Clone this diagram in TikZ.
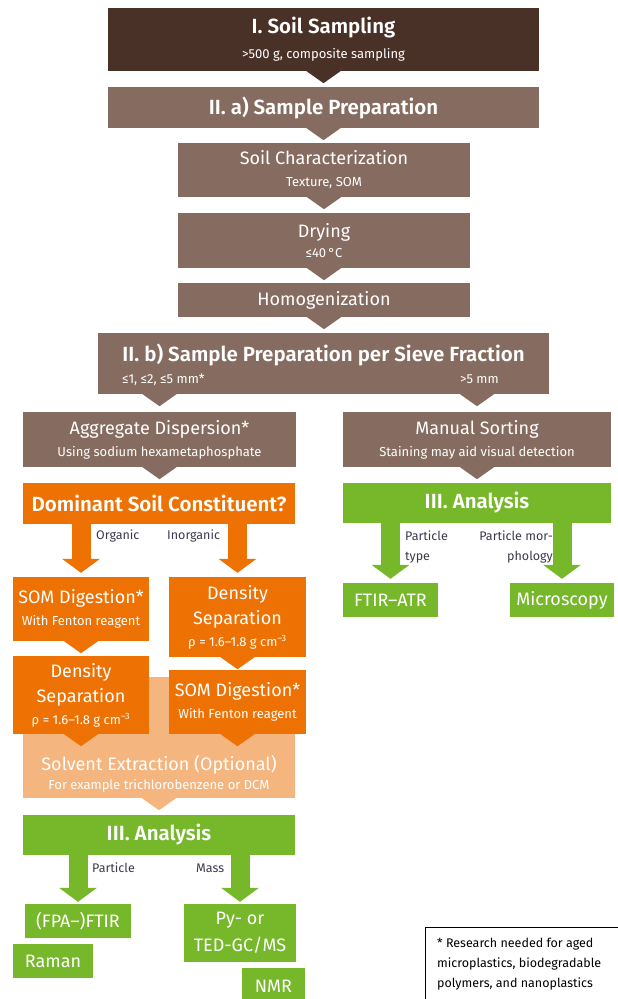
\documentclass[tikz,border=0pt]{standalone}
\usepackage{fontspec}
\setmainfont{Fira Sans}[BoldFont={Fira Sans SemiBold}]
\usepackage{tikz}
\usetikzlibrary{positioning, arrows.meta, calc}

\definecolor{soildark}{HTML}{4A3128}
\definecolor{soilbrown}{HTML}{866C60}
\definecolor{prepor}{HTML}{EE7203}
\definecolor{solvlight}{HTML}{F5B57F}
\definecolor{anagreen}{HTML}{76B82A}
\definecolor{labelgray}{HTML}{3A3A4E}

% font sizes (1pt = 1px of the sheet)
\newcommand{\headtxt}{\fontsize{20.5}{22}\selectfont\bfseries}
\newcommand{\bodytxt}{\fontsize{18}{22}\selectfont}
\newcommand{\subtxt}{\fontsize{13}{22}\selectfont}

% small triangle under a box, pointing down to the next one
\newcommand{\pointer}[3]{%
  \fill[#1] ($(#3.south -| #2)+(-17,0)$) -- ($(#3.south -| #2)+(17,0)$)
    -- ($(#3.south -| #2)+(0,-12)$) -- cycle;}

\begin{document}
\begin{tikzpicture}[x=1pt, y=1pt,
  box/.style={inner sep=0pt, text=white, align=center, font=\bodytxt},
  lbl/.style={inner sep=0pt, text=labelgray, font=\fontsize{12.5}{20}\selectfont},
  blockarrow/.style={draw=#1, line width=19pt,
    -{Triangle[width=38pt, length=14pt, line width=0pt]}}]
\useasboundingbox (0,0) rectangle (618,-999);

% I. sampling and II. a) preparation
\node[box, fill=soildark, minimum width=431, minimum height=63] (samp) at (323.5,-39.5)
  {{\headtxt I. Soil Sampling}\\[3pt]{\subtxt >500 g, composite sampling}};
\node[box, fill=soilbrown, minimum width=431, minimum height=41] (prepa) at (323.5,-107.5)
  {\headtxt II. a) Sample Preparation};
\node[box, fill=soilbrown, minimum width=292, minimum height=54] (soilchar) at (324,-170)
  {Soil Characterization\\{\subtxt Texture, SOM}};
\node[box, fill=soilbrown, minimum width=292, minimum height=55] (drying) at (324,-240.5)
  {Drying\\[-2pt]{\subtxt ≤40\,°C}};
\node[box, fill=soilbrown, minimum width=292, minimum height=34] (homog) at (324,-300)
  {Homogenization};

% II. b) sieve fractions
\node[box, fill=soilbrown, minimum width=451, minimum height=61] (prepb) at (323.5,-363.5) {};
\node[box, anchor=base] (prepbtitle) at ($(prepb.north)+(0,-29)$)
  {\headtxt II. b) Sample Preparation per Sieve Fraction};
\node[box, anchor=base west] (prepbfine) at ($(prepb.south west)+(24,11)$)
  {\subtxt ≤1, ≤2, ≤5 mm*};
\node[box, anchor=base west] (prepbcoarse) at ($(prepb.south west)+(362,11)$)
  {\subtxt >5 mm};

\node[box, fill=soilbrown, minimum width=273, minimum height=55] (aggdisp) at (159.5,-439.5)
  {Aggregate Dispersion*\\{\subtxt Using sodium hexametaphosphate}};
\node[box, fill=soilbrown, minimum width=268, minimum height=55] (manual) at (477,-439.5)
  {Manual Sorting\\{\subtxt Staining may aid visual detection}};

% decision and right analysis
\node[box, fill=prepor, minimum width=272, minimum height=41] (domin) at (159,-503.5)
  {\headtxt Dominant Soil Constituent?};
\node[box, fill=anagreen, minimum width=268, minimum height=40] (anal1) at (477,-503)
  {\headtxt III. Analysis};

% organic / inorganic branches
\node[box, fill=prepor, minimum width=136, minimum height=64] (somA) at (81,-609)
  {SOM Digestion*\\{\subtxt With Fenton reagent}};
\node[box, fill=prepor, minimum width=137, minimum height=80] (densB) at (237.5,-617)
  {Density\\[3pt]Separation\\{\subtxt ρ = 1.6–1.8 g cm\textsuperscript{–3}}};

% solvent extraction lies behind the lower boxes
\node[box, fill=solvlight, minimum width=272, minimum height=121] (solvent) at (159,-737.5) {};
\node[box, anchor=base] (solvtitle) at ($(solvent.south)+(0,28)$)
  {Solvent Extraction (Optional)};
\node[box, anchor=base] (solvsub) at ($(solvent.south)+(0,9)$)
  {\subtxt For example trichlorobenzene or DCM};

\node[box, fill=prepor, minimum width=136, minimum height=78] (densA) at (81,-695)
  {Density\\[3pt]Separation\\{\subtxt ρ = 1.6–1.8 g cm\textsuperscript{–3}}};
\node[box, fill=prepor, minimum width=137, minimum height=64] (somB) at (237.5,-702)
  {SOM Digestion*\\{\subtxt With Fenton reagent}};

% III. analysis (bottom)
\node[box, fill=anagreen, minimum width=272, minimum height=40] (anal2) at (159,-835)
  {\headtxt III. Analysis};
\node[box, fill=anagreen, minimum width=106, minimum height=34] (ftir) at (78,-921) {(FPA–)FTIR};
\node[box, fill=anagreen, minimum width=80, minimum height=34] (raman) at (53,-961) {Raman};
\node[box, fill=anagreen, minimum width=112, minimum height=58, font=\fontsize{18}{27}\selectfont] (pyms) at (240,-933) {Py- or\\TED-GC/MS};
\node[box, fill=anagreen, minimum width=63, minimum height=36] (nmr) at (273.5,-986) {NMR};
\node[box, fill=anagreen, minimum width=95, minimum height=34] (ftiratr) at (390.5,-600) {FTIR–ATR};
\node[box, fill=anagreen, minimum width=104, minimum height=34] (micro) at (562,-600) {Microscopy};

% pointers between boxes
\pointer{soildark}{samp}{samp}
\pointer{soilbrown}{prepa}{prepa}
\pointer{soilbrown}{soilchar}{soilchar}
\pointer{soilbrown}{drying}{drying}
\pointer{soilbrown}{homog}{homog}
\pointer{soilbrown}{aggdisp}{prepb}
\pointer{soilbrown}{manual}{prepb}
\pointer{soilbrown}{aggdisp}{aggdisp}
\pointer{soilbrown}{manual}{manual}
\pointer{prepor}{somA}{somA}
\pointer{prepor}{densB}{densB}
\pointer{prepor}{densA}{densA}
\pointer{prepor}{somB}{somB}
\pointer{solvlight}{solvent}{solvent}

% block arrows
\draw[blockarrow=prepor] (domin.south -| somA) -- ($(somA.north)+(0,4)$);
\draw[blockarrow=prepor] (domin.south -| densB) -- ($(densB.north)+(0,4)$);
\draw[blockarrow=anagreen] (anal1.south -| ftiratr) -- ($(ftiratr.north)+(0,4)$);
\draw[blockarrow=anagreen] (anal1.south -| micro) -- ($(micro.north)+(0,4)$);
\draw[blockarrow=anagreen] (anal2.south -| ftir) -- ($(ftir.north)+(0,2)$);
\draw[blockarrow=anagreen] (anal2.south -| pyms) -- ($(pyms.north)+(0,2)$);

% arrow labels
\node[lbl, anchor=base west] (orglbl) at (96,-539) {Organic};
\node[lbl, anchor=base west] (inorglbl) at (167,-539) {Inorganic};
\node[lbl, anchor=north west, align=left] (typelbl) at (405,-530.5) {Particle\\type};
\node[lbl, anchor=north east, align=right] (morphlbl) at (553,-530.5) {Particle mor-\\phology};
\node[lbl, anchor=base west] (partlbl) at (92,-872) {Particle};
\node[lbl, anchor=base west] (masslbl) at (196,-872) {Mass};

% footnote
\node[draw=black, line width=1.2pt, fill=white, anchor=north west, minimum width=205,
  minimum height=90, inner sep=0pt] (note) at (425,-927) {};
\node[lbl, text=black, anchor=north west, align=left] (notetext) at (437,-938)
  {* Research needed for aged\\microplastics, biodegradable\\polymers, and nanoplastics};
\end{tikzpicture}
\end{document}
